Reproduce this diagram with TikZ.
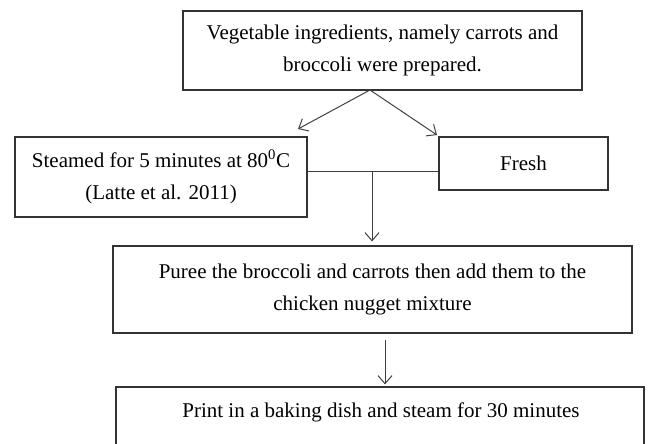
\documentclass[tikz,border=0pt]{standalone}
\usepackage{fontspec}
\setmainfont{Liberation Serif}
\usetikzlibrary{arrows.meta,calc}
\begin{document}
\begin{tikzpicture}[x=1pt,y=-1pt,
  box/.style={draw=black!80,line width=1.2pt,inner sep=0pt,align=center,
    font=\fontsize{21}{32.5}\selectfont},
  conn/.style={draw=black!75,line width=1pt},
  arr/.style={conn,-{Straight Barb[length=8pt,width=14pt,line width=1pt]}}]
\useasboundingbox (0,0) rectangle (649,444);
\clip (0,0) rectangle (649,444);
\node[box,minimum width=399pt,minimum height=79pt] (top) at (382.5,50.5)
  {Vegetable ingredients, namely carrots and\\broccoli were prepared.};
\node[box,minimum width=292pt,minimum height=80pt] (steam) at (161,177)
  {Steamed for 5 minutes at 80\textsuperscript{0}C\\(Latte et al. 2011)};
\node[box,minimum width=169pt,minimum height=53pt] (fresh) at (523.5,163.5) {Fresh};
\node[box,minimum width=519pt,minimum height=87pt] (puree) at (372.5,289.5)
  {Puree the broccoli and carrots then add them to the\\chicken nugget mixture};
\node[box,minimum width=528pt,minimum height=86pt] (print) at (380,430) {};
\node[font=\fontsize{21}{32.5}\selectfont,inner sep=0pt,anchor=base] (printtext) at (381,417)
  {Print in a baking dish and steam for 30 minutes};
\coordinate (apex) at (370,90);
\coordinate (tl) at (298,129);
\coordinate (tr) at (437,135);
\coordinate (j) at (372,172);
\draw[arr] (apex) -- (tl);
\draw[arr] (apex) -- (tr);
\draw[conn] (j -| steam.east) -- (j -| fresh.west);
\draw[arr] (j) -- ($(j |- puree.north)+(0,-4)$);
\coordinate (a2) at (385,340);
\draw[arr] (a2) -- ($(a2 |- print.north)+(0,-2)$);
\end{tikzpicture}
\end{document}
